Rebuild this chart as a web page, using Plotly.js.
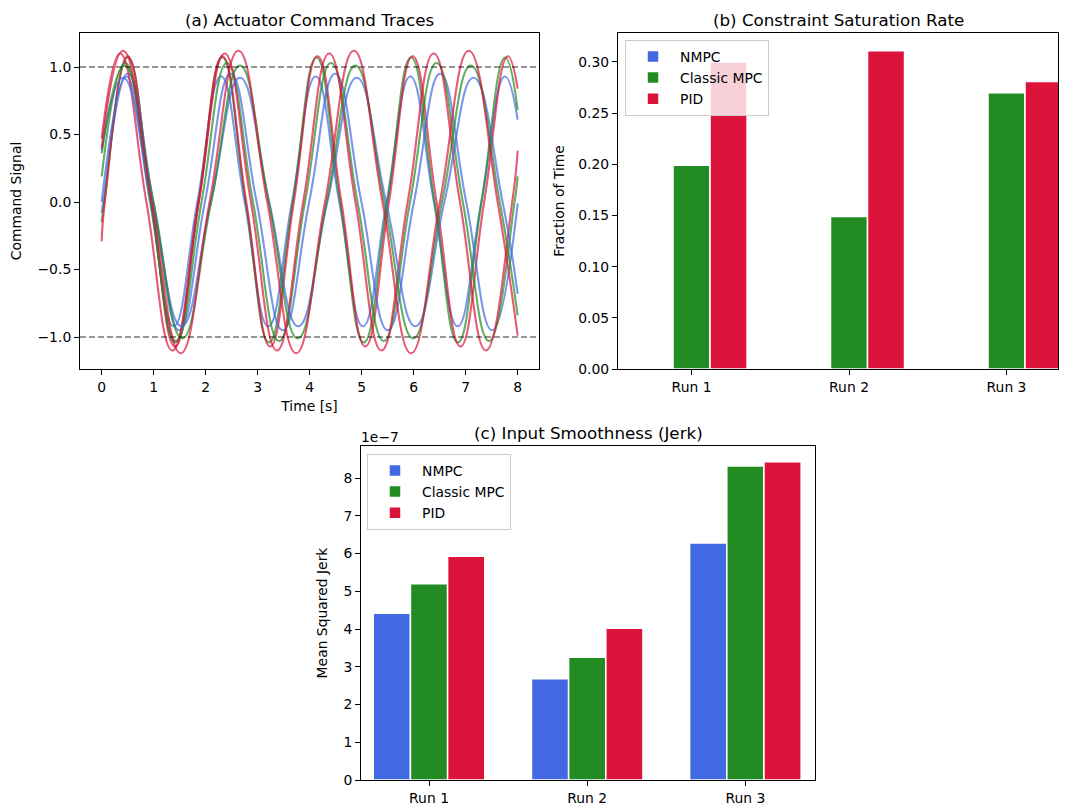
<!DOCTYPE html>
<html><head><meta charset="utf-8">
<script src="https://cdn.plot.ly/plotly-3.0.1.min.js"></script>
<style>html,body{margin:0;padding:0;background:#fff}#chart{width:1072px;height:807px}</style>
</head><body><div id="chart"></div>
<script>
// ---------- Panel (a): actuator command traces (key points) ----------
const run1_t_nmpc = [0, 0.03, 0.475, 0.93, 1.385, 1.84, 2.295, 2.75, 3.205, 3.66, 4.115, 4.57, 5.025, 5.48, 5.935, 6.39, 6.845, 7.30, 7.755, 8.0];
const run1_u_nmpc = [-0.08, 0, 0.93, 0, -0.92, 0, 0.93, 0, -0.92, 0, 0.93, 0, -0.92, 0, 0.93, 0, -0.92, 0, 0.93, 0.61];
const run1_t_mpc  = [0, 0.05, 0.50, 0.955, 1.41, 1.865, 2.32, 2.77, 3.22, 3.675, 4.13, 4.585, 5.04, 5.495, 5.95, 6.40, 6.85, 7.305, 7.76, 8.0];
const run1_u_mpc  = [-0.15, 0, 1.07, 0, -1.04, 0, 1.07, 0, -1.04, 0, 1.07, 0, -1.04, 0, 1.07, 0, -1.04, 0, 1.07, 0.68];
const run1_t_pid  = [0, 0.06, 0.50, 0.955, 1.41, 1.865, 2.32, 2.78, 3.24, 3.695, 4.15, 4.61, 5.07, 5.525, 5.98, 6.44, 6.90, 7.355, 7.81, 8.0];
const run1_u_pid  = [-0.29, 0, 1.08, 0, -1.07, 0, 1.08, 0, -1.07, 0, 1.08, 0, -1.07, 0, 1.08, 0, -1.07, 0, 1.08, 0.84];

const run2_t_nmpc = [0, 0.50, 0.995, 1.49, 1.985, 2.48, 2.98, 3.485, 3.99, 4.49, 4.995, 5.50, 6.005, 6.51, 7.01, 7.51, 8.0];
const run2_u_nmpc = [0.0, 0.95, 0, -0.95, 0, 0.95, 0, -0.95, 0, 0.95, 0, -0.95, 0, 0.95, 0, -0.95, -0.01];
const run2_t_mpc  = [0, 0.45, 0.94, 1.43, 1.92, 2.41, 2.91, 3.41, 3.91, 4.41, 4.92, 5.425, 5.93, 6.44, 6.945, 7.45, 7.94, 8.0];
const run2_u_mpc  = [0.19, 1.03, 0, -1.03, 0, 1.03, 0, -1.03, 0, 1.03, 0, -1.03, 0, 1.03, 0, -1.03, 0, 0.19];
const run2_t_pid  = [0, 0.355, 0.86, 1.36, 1.865, 2.365, 2.87, 3.37, 3.875, 4.375, 4.88, 5.38, 5.885, 6.385, 6.89, 7.39, 7.895, 8.0];
const run2_u_pid  = [0.47, 1.10, 0, -1.10, 0, 1.10, 0, -1.10, 0, 1.10, 0, -1.10, 0, 1.10, 0, -1.10, 0, 0.38];

const run3_t_nmpc = [0, 0.41, 0.97, 1.535, 2.10, 2.66, 3.22, 3.78, 4.34, 4.905, 5.47, 6.03, 6.59, 7.15, 7.71, 8.0];
const run3_u_nmpc = [0.38, 0.92, 0, -0.92, 0, 0.92, 0, -0.92, 0, 0.92, 0, -0.92, 0, 0.92, 0, -0.68];
const run3_t_mpc  = [0, 0.44, 0.995, 1.55, 2.105, 2.66, 3.215, 3.77, 4.325, 4.88, 5.435, 5.99, 6.545, 7.10, 7.655, 8.0];
const run3_u_mpc  = [0.36, 1.01, 0, -1.01, 0, 1.01, 0, -1.01, 0, 1.01, 0, -1.01, 0, 1.01, 0, -0.84];
const run3_t_pid  = [0, 0.41, 0.965, 1.52, 2.075, 2.63, 3.185, 3.74, 4.295, 4.85, 5.40, 5.95, 6.505, 7.06, 7.615, 8.0];
const run3_u_pid  = [0.40, 1.12, 0, -1.12, 0, 1.12, 0, -1.12, 0, 1.12, 0, -1.12, 0, 1.12, 0, -0.99];

const a_yticks = [-1.0, -0.5, 0.0, 0.5, 1.0];
const a_yticktext = ['\u22121.0', '\u22120.5', '0.0', '0.5', '1.0'];
const saturationLimits = [-1.0, 1.0];

// ---------- Panel (b): constraint saturation rate ----------
const runs = ['Run 1', 'Run 2', 'Run 3'];
const controllers = ['NMPC', 'Classic MPC', 'PID'];
const sat_nmpc = [0, 0, 0];
const sat_mpc  = [0.199, 0.149, 0.270];
const sat_pid  = [0.300, 0.311, 0.281];

// ---------- Panel (c): input smoothness ----------
const jerk_nmpc = [4.42e-7, 2.68e-7, 6.28e-7];
const jerk_mpc  = [5.20e-7, 3.25e-7, 8.32e-7];
const jerk_pid  = [5.93e-7, 4.02e-7, 8.43e-7];
const c_ytickvals = [0, 1e-7, 2e-7, 3e-7, 4e-7, 5e-7, 6e-7, 7e-7, 8e-7];
const c_yticktext = ['0', '1', '2', '3', '4', '5', '6', '7', '8'];

const colors = {nmpc: '#4169E1', mpc: '#228B22', pid: '#DC143C'};
const lineColors = {nmpc: 'rgba(65,105,225,0.7)', mpc: 'rgba(34,139,34,0.7)', pid: 'rgba(220,20,60,0.7)'};

const FONT = 'DejaVu Sans, Liberation Sans, sans-serif';
const FS = 13.9, TFS = 16.7;
const W = 1072, H = 807;
const px = v => v / W;
const py = v => 1 - v / H;

const traces = [];
const lineSets = [
  [run1_t_nmpc, run1_u_nmpc, 'nmpc'], [run1_t_mpc, run1_u_mpc, 'mpc'], [run1_t_pid, run1_u_pid, 'pid'],
  [run2_t_nmpc, run2_u_nmpc, 'nmpc'], [run2_t_mpc, run2_u_mpc, 'mpc'], [run2_t_pid, run2_u_pid, 'pid'],
  [run3_t_nmpc, run3_u_nmpc, 'nmpc'], [run3_t_mpc, run3_u_mpc, 'mpc'], [run3_t_pid, run3_u_pid, 'pid']
];
lineSets.forEach(([t, u, k]) => {
  traces.push({type: 'scatter', mode: 'lines', x: t, y: u, xaxis: 'x', yaxis: 'y',
    line: {color: lineColors[k], width: 2.1, shape: 'spline', smoothing: 1.3},
    showlegend: false, hoverinfo: 'skip'});
});

const barLine = {color: 'white', width: 1.5};
[[sat_nmpc, 'nmpc', 0], [sat_mpc, 'mpc', 1], [sat_pid, 'pid', 2]].forEach(([vals, k, i]) => {
  traces.push({type: 'bar', x: runs, y: vals, name: controllers[i], xaxis: 'x2', yaxis: 'y2',
    marker: {color: colors[k], line: barLine}, legend: 'legend'});
});
[[jerk_nmpc, 'nmpc', 0], [jerk_mpc, 'mpc', 1], [jerk_pid, 'pid', 2]].forEach(([vals, k, i]) => {
  traces.push({type: 'bar', x: runs, y: vals, name: controllers[i], xaxis: 'x3', yaxis: 'y3',
    marker: {color: colors[k], line: barLine}, legend: 'legend2'});
});

const axBase = {
  showline: true, mirror: true, linecolor: 'black', linewidth: 1,
  ticks: 'outside', ticklen: 5, tickwidth: 1, tickcolor: 'black',
  showgrid: false, zeroline: false, automargin: false,
  tickfont: {family: FONT, size: FS, color: 'black'}
};
const titleFont = {family: FONT, size: FS, color: 'black'};
const legendBase = {xanchor: 'left', yanchor: 'top', bgcolor: 'rgba(255,255,255,0.8)',
  bordercolor: '#cccccc', borderwidth: 1, font: {family: FONT, size: FS, color: 'black'},
  traceorder: 'normal', itemwidth: 44};

const layout = {
  width: W, height: H,
  margin: {l: 0, r: 0, t: 0, b: 0},
  paper_bgcolor: 'white', plot_bgcolor: 'white',
  font: {family: FONT, color: 'black'},
  barmode: 'group', bargap: 0.295, bargroupgap: 0,
  xaxis: Object.assign({}, axBase, {domain: [px(80), px(539)], anchor: 'y', range: [-0.417, 8.41],
    tickvals: [0,1,2,3,4,5,6,7,8], title: {text: 'Time [s]', font: titleFont, standoff: 7}}),
  yaxis: Object.assign({}, axBase, {domain: [py(369), py(33)], anchor: 'x', range: [-1.237, 1.252],
    tickvals: a_yticks, ticktext: a_yticktext, title: {text: 'Command Signal', font: titleFont, standoff: 12}}),
  xaxis2: Object.assign({}, axBase, {domain: [px(618), px(1058)], anchor: 'y2', type: 'category', range: [-0.467, 2.327]}),
  yaxis2: Object.assign({}, axBase, {domain: [py(369), py(33)], anchor: 'x2', range: [0, 0.3283],
    tickvals: [0, 0.05, 0.10, 0.15, 0.20, 0.25, 0.30], tickformat: '.2f',
    title: {text: 'Fraction of Time', font: titleFont, standoff: 10}}),
  xaxis3: Object.assign({}, axBase, {domain: [px(361), px(815)], anchor: 'y3', type: 'category', range: [-0.43, 2.44]}),
  yaxis3: Object.assign({}, axBase, {domain: [py(780), py(446)], anchor: 'x3', range: [0, 8.85e-7],
    tickvals: c_ytickvals, ticktext: c_yticktext,
    title: {text: 'Mean Squared Jerk', font: titleFont, standoff: 12}}),
  legend: Object.assign({}, legendBase, {x: px(625), y: py(40)}),
  legend2: Object.assign({}, legendBase, {x: px(367), y: py(454)}),
  shapes: saturationLimits.map(v => ({type: 'line', xref: 'x domain', yref: 'y', x0: 0, x1: 1, y0: v, y1: v,
    line: {color: 'rgba(0,0,0,0.55)', width: 1.3, dash: '6px,3px'}})),
  annotations: [
    {text: '(a) Actuator Command Traces', xref: 'paper', yref: 'paper', x: px(309.5), y: py(20), xanchor: 'center', yanchor: 'middle', showarrow: false, font: {family: FONT, size: TFS, color: 'black'}},
    {text: '(b) Constraint Saturation Rate', xref: 'paper', yref: 'paper', x: px(838), y: py(20), xanchor: 'center', yanchor: 'middle', showarrow: false, font: {family: FONT, size: TFS, color: 'black'}},
    {text: '(c) Input Smoothness (Jerk)', xref: 'paper', yref: 'paper', x: px(588), y: py(433), xanchor: 'center', yanchor: 'middle', showarrow: false, font: {family: FONT, size: TFS, color: 'black'}},
    {text: '1e\u22127', xref: 'paper', yref: 'paper', x: px(359), y: py(437), xanchor: 'left', yanchor: 'middle', showarrow: false, font: {family: FONT, size: FS, color: 'black'}}
  ]
};

Plotly.newPlot('chart', traces, layout, {displayModeBar: false, staticPlot: true});
</script>
</body></html>
